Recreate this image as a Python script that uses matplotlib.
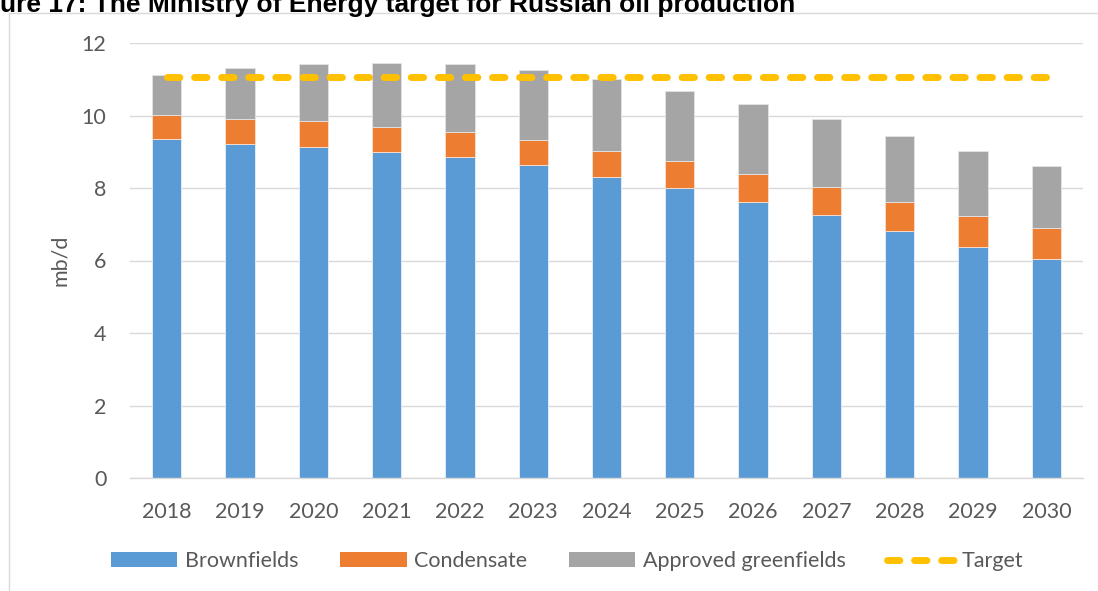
import matplotlib
matplotlib.use("Agg")
import matplotlib.pyplot as plt
from matplotlib.lines import Line2D
from matplotlib.patches import Patch
import numpy as np

# dados (mb/d)
anos = ["2018", "2019", "2020", "2021", "2022", "2023", "2024",
        "2025", "2026", "2027", "2028", "2029", "2030"]
brownfields = [9.35, 9.21, 9.13, 8.98, 8.85, 8.63, 8.30, 8.00, 7.62, 7.26, 6.82, 6.38, 6.05]
condensado = [0.66, 0.69, 0.71, 0.70, 0.69, 0.69, 0.72, 0.74, 0.77, 0.78, 0.80, 0.84, 0.84]
greenfields = [1.11, 1.40, 1.57, 1.77, 1.87, 1.94, 1.99, 1.94, 1.92, 1.86, 1.81, 1.80, 1.73]
meta = [11.07] * 13

AZUL = "#5B9BD5"
LARANJA = "#ED7D31"
CINZA = "#A5A5A5"
AMARELO = "#FFC000"
TEXTO = "#595959"
GRADE = "#D9D9D9"
FS = 15.5

plt.rcParams["font.family"] = ["Lato", "DejaVu Sans"]

fig = plt.figure(figsize=(10.98, 5.91), dpi=100)
ax = fig.add_axes([130 / 1098, 1 - 478 / 591, 953 / 1098, 435 / 591])

x = np.arange(len(anos))
b = np.array(brownfields)
c = np.array(condensado)
g = np.array(greenfields)

ax.bar(x, b, width=0.4, color=AZUL, edgecolor="#EAF1FA", linewidth=0.6, zorder=2)
ax.bar(x, c, width=0.4, bottom=b, color=LARANJA, edgecolor="#F9E0D0", linewidth=0.6, zorder=2)
ax.bar(x, g, width=0.4, bottom=b + c, color=CINZA, edgecolor="#E4E4E4", linewidth=0.6, zorder=2)

lw = 5
ax.plot(x, meta, color=AMARELO, linewidth=lw, linestyle=(0, (1.78, 2.12)),
        dash_capstyle="round", solid_capstyle="round", zorder=3)

ax.set_xlim(-0.5, len(anos) - 0.5)
ax.set_ylim(0, 12)
ax.set_yticks(range(0, 13, 2))
ax.set_xticks(x)
ax.set_xticklabels(anos)

ax.grid(axis="y", color=GRADE, linewidth=1, zorder=0)
ax.set_axisbelow(True)
for s in ["top", "right", "left"]:
    ax.spines[s].set_visible(False)
ax.spines["bottom"].set_color(GRADE)
ax.spines["bottom"].set_linewidth(1)

ax.tick_params(axis="both", length=0, labelsize=FS, colors=TEXTO)
ax.tick_params(axis="y", pad=17)
ax.tick_params(axis="x", pad=17)

ax.set_ylabel("mb/d", fontsize=FS, color=TEXTO)
ax.yaxis.set_label_coords(-(130 - 70) / 953, 0.5)

handles = [
    Patch(facecolor=AZUL, label="Brownfields"),
    Patch(facecolor=LARANJA, label="Condensate"),
    Patch(facecolor=CINZA, label="Approved greenfields"),
    Line2D([0], [0], color=AMARELO, linewidth=lw, linestyle=(0, (1.78, 2.12)),
           dash_capstyle="round", label="Target"),
]
leg = fig.legend(handles=handles, loc="center", bbox_to_anchor=(567 / 1098, 30 / 591),
                 ncol=4, frameon=False, fontsize=FS, handlelength=3.1,
                 handleheight=0.65, handletextpad=0.37, columnspacing=1.9)
for t in leg.get_texts():
    t.set_color(TEXTO)

# título cortado no topo, como na imagem original
fig.text(0, 1 - 12 / 591, "ure 17: The Ministry of Energy target for Russian oil production",
         fontsize=19, fontweight="bold", family=["Liberation Sans", "DejaVu Sans"],
         ha="left", va="baseline", color="black")

# moldura da área do gráfico
fig.add_artist(Line2D([9 / 1098, 9 / 1098], [0, 1 - 13 / 591], color=GRADE, linewidth=1))
fig.add_artist(Line2D([9 / 1098, 1], [1 - 13 / 591, 1 - 13 / 591], color=GRADE, linewidth=1))

fig.savefig("out.png", dpi=100)
